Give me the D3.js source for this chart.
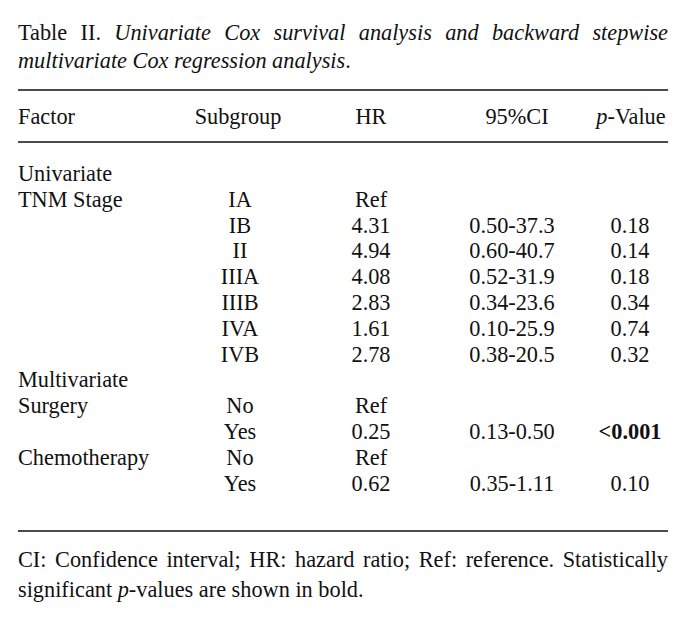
<!DOCTYPE html>
<html>
<head>
<meta charset="utf-8">
<script src="https://cdn.jsdelivr.net/npm/d3@7"></script>
<style>
  body { margin: 0; background: #fff; }
  svg text { font-family: "Liberation Serif", "Times New Roman", serif; fill: #111; }
</style>
</head>
<body>
<div id="chart"></div>
<script>
// table content
const headers = ["Factor", "Subgroup", "HR", "95%CI", "p-Value"]
const factors = ["Univariate", "TNM Stage", "", "", "", "", "", "", "Multivariate", "Surgery", "", "Chemotherapy", ""]
const subgroups = ["", "IA", "IB", "II", "IIIA", "IIIB", "IVA", "IVB", "", "No", "Yes", "No", "Yes"]
const hrValues = ["", "Ref", "4.31", "4.94", "4.08", "2.83", "1.61", "2.78", "", "Ref", "0.25", "Ref", "0.62"]
const ciValues = ["", "", "0.50-37.3", "0.60-40.7", "0.52-31.9", "0.34-23.6", "0.10-25.9", "0.38-20.5", "", "", "0.13-0.50", "", "0.35-1.11"]
const pValues = ["", "", "0.18", "0.14", "0.18", "0.34", "0.74", "0.32", "", "", "<0.001", "", "0.10"]
const boldP = ["<0.001"]

const titleLine1 = [
  { t: "Table", i: false }, { t: "II.", i: false }, { t: "Univariate", i: true }, { t: "Cox", i: true },
  { t: "survival", i: true }, { t: "analysis", i: true }, { t: "and", i: true }, { t: "backward", i: true }, { t: "stepwise", i: true }
]
const titleLine2 = [{ t: "multivariate Cox regression analysis", i: true }, { t: ".", i: false }]
const noteLine1 = ["CI:", "Confidence", "interval;", "HR:", "hazard", "ratio;", "Ref:", "reference.", "Statistically"]
const noteLine2 = [{ t: "significant ", i: false }, { t: "p", i: true }, { t: "-values are shown in bold.", i: false }]

const width = 688, height = 619
const left = 18, right = 668
const fontSize = 22.3

const svg = d3.select("#chart").append("svg")
  .attr("width", width)
  .attr("height", height)
  .style("font-size", fontSize + "px")

const colKeys = ["factor", "subgroup", "hr", "ci", "p"]
/** column centre for body cells (Factor is left aligned) */
const colX = d3.scaleOrdinal().domain(colKeys).range([left, 240, 371, 512, 630])
/** column centre for header cells */
const headX = d3.scaleOrdinal().domain(colKeys).range([left, 238, 371, 517, 631])

/** row index to baseline */
const rowY = d3.scaleLinear().domain([0, factors.length - 1]).range([181, 490.6])

// justified line of words across the full width
function justifiedLine(words, y) {
  const g = svg.append("g")
  const nodes = words.map(w => g.append("text")
    .attr("y", y)
    .style("font-style", w.i ? "italic" : "normal")
    .text(w.t))
  const widths = nodes.map(n => n.node().getComputedTextLength())
  const gap = (right - left - d3.sum(widths)) / (words.length - 1)
  let x = left
  nodes.forEach((n, i) => { n.attr("x", x); x += widths[i] + gap })
}

function plainLine(parts, y) {
  const t = svg.append("text").attr("x", left).attr("y", y)
  parts.forEach(p => t.append("tspan").style("font-style", p.i ? "italic" : "normal").text(p.t))
}

// title
justifiedLine(titleLine1, 40)
plainLine(titleLine2, 68)

// rules
const rules = [90, 142, 531]
svg.selectAll("line.rule")
  .data(rules)
  .enter()
  .append("line")
  .attr("class", "rule")
  .attr("x1", left)
  .attr("x2", right)
  .attr("y1", d => d)
  .attr("y2", d => d)
  .attr("stroke", "#111")
  .attr("stroke-width", 1.6)

// header
const headerY = 123.5
headers.forEach((h, i) => {
  const t = svg.append("text")
    .attr("x", headX(colKeys[i]))
    .attr("y", headerY)
    .attr("text-anchor", i === 0 ? "start" : "middle")
  if (h.startsWith("p-")) {
    t.append("tspan").style("font-style", "italic").text("p")
    t.append("tspan").text(h.slice(1))
  } else {
    t.text(h)
  }
})

// body
const columns = [
  { key: "factor", values: factors, anchor: "start" },
  { key: "subgroup", values: subgroups, anchor: "middle" },
  { key: "hr", values: hrValues, anchor: "middle" },
  { key: "ci", values: ciValues, anchor: "middle" },
  { key: "p", values: pValues, anchor: "middle" },
]
for (const col of columns) {
  svg.append("g")
    .selectAll("text")
    .data(col.values.map((v, i) => ({ v, i })).filter(d => d.v !== ""))
    .enter()
    .append("text")
    .attr("x", colX(col.key))
    .attr("y", d => rowY(d.i))
    .attr("text-anchor", col.anchor)
    .style("font-weight", d => boldP.includes(d.v) ? "bold" : "normal")
    .text(d => d.v)
}

// footnote
justifiedLine(noteLine1.map(t => ({ t, i: false })), 567)
plainLine(noteLine2, 597)
</script>
</body>
</html>
